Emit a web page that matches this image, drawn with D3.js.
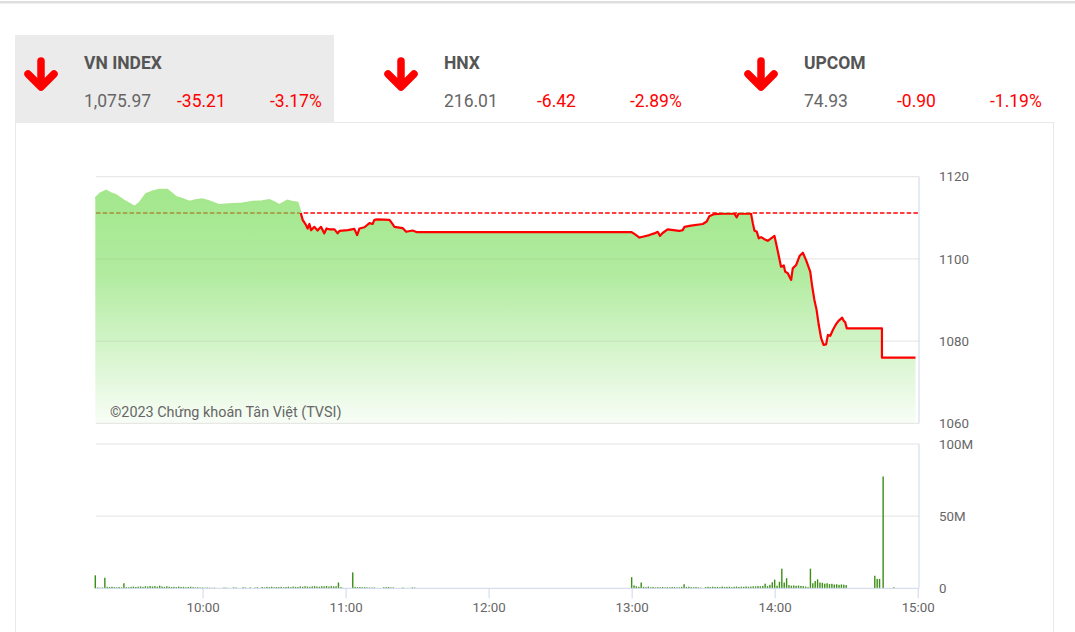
<!DOCTYPE html>
<html><head><meta charset="utf-8">
<script src="https://cdn.jsdelivr.net/npm/d3@7"></script>
<style>
html,body{margin:0;padding:0;background:#fff;}
svg{display:block;font-family:Roboto,"Noto Sans",sans-serif;}
</style></head><body>
<svg id="c" width="1075" height="632"></svg>
<script>
// ---------- header data ----------
const indexNames = ["VN INDEX", "HNX", "UPCOM"];
const indexValues = ["1,075.97", "216.01", "74.93"];
const indexChanges = ["-35.21", "-6.42", "-0.90"];
const indexPercents = ["-3.17%", "-2.89%", "-1.19%"];

// ---------- price series (VN-Index intraday) ----------
const referenceValue = 1111.18;
const priceTimes = [
 "09:15:00","09:17:00","09:19:30","09:21:30","09:23:40","09:27:00","09:31:25","09:33:30","09:36:15","09:39:00",
 "09:41:50","09:45:10","09:48:50","09:51:30","09:54:25","09:57:00","09:59:55","10:03:00","10:07:00","10:11:00",
 "10:16:40","10:21:00","10:25:00","10:28:00","10:30:00","10:32:10","10:35:35","10:37:30","10:39:50","10:41:20",
 "10:42:00","10:43:25","10:44:05","10:44:50","10:45:30","10:46:55","10:48:15","10:49:40","10:51:05","10:52:00",
 "10:53:10","10:55:20","10:56:40","10:57:25","11:00:55","11:03:40","11:04:50","11:05:50","11:07:55","11:10:00",
 "11:11:20","11:12:05","11:13:25","11:18:25","11:19:40","11:20:30","11:23:55","11:25:25","11:28:05","11:30:00",
 "13:00:00","13:01:10","13:03:15","13:04:40","13:07:25","13:09:30","13:10:55","13:11:55","13:13:00","13:15:05",
 "13:20:00","13:21:25","13:22:10","13:24:55","13:29:50","13:31:30","13:32:35","13:34:40","13:39:35","13:43:05",
 "13:44:05","13:44:55","13:50:05","13:50:50","13:51:30","13:52:30","13:53:20","13:54:20","13:55:40","13:57:05",
 "13:59:55","14:01:20","14:02:40","14:03:50","14:04:25","14:05:30","14:06:10","14:06:55","14:07:35","14:09:00",
 "14:10:25","14:11:50","14:13:10","14:14:55","14:15:40","14:16:40","14:17:35","14:18:30","14:19:30","14:20:30",
 "14:21:35","14:22:20","14:23:20","14:24:25","14:25:50","14:26:55","14:28:20","14:29:00","14:29:35","14:30:15",
 "14:45:00","14:45:00","14:59:05"
];
const priceValues = [
 1114.7,1115.9,1116.6,1116.0,1115.5,1114.2,1112.7,1113.6,1115.8,1116.4,
 1116.8,1116.8,1115.1,1114.6,1113.9,1114.3,1114.5,1114.0,1113.1,1113.3,
 1113.5,1113.9,1114.0,1114.3,1113.8,1113.1,1114.2,1113.9,1113.7,1110.9,
 1109.5,1108.2,1107.4,1108.5,1107.0,1107.8,1106.9,1107.8,1106.2,1107.4,
 1107.2,1107.2,1106.2,1106.8,1107.0,1107.3,1105.8,1107.4,1107.7,1108.7,
 1108.5,1109.5,1109.6,1109.5,1108.5,1107.8,1107.5,1106.6,1106.9,1106.5,
 1106.5,1106.1,1105.2,1105.4,1105.8,1106.2,1106.6,1105.6,1106.3,1107.2,
 1106.8,1107.0,1107.8,1108.1,1108.5,1109.1,1110.4,1110.9,1111.1,1111.0,
 1110.1,1111.1,1111.0,1108.7,1106.9,1106.6,1105.0,1105.3,1104.8,1104.4,
 1105.6,1101.8,1098.1,1098.4,1096.9,1096.5,1095.7,1094.9,1097.7,1098.5,
 1100.7,1101.5,1099.7,1096.9,1093.6,1090.0,1087.6,1083.9,1080.7,1079.1,
 1079.2,1081.5,1081.3,1082.7,1084.2,1085.0,1085.7,1084.9,1084.6,1083.1,
 1083.1,1075.97,1075.97
];

// ---------- volume (millions of shares, per minute) ----------
const volMorningStart = "09:15";
const volMorning = [
 9,0.6,0.4,0.5,7.3,1.0,0.9,1.1,0.8,0.7, 0.9,0.6,3.5,0.8,0.7,1.0,1.2,0.9,1.1,1.3,
 1.0,1.4,1.2,1.6,1.3,1.5,1.1,1.8,1.2,1.0, 1.4,1.1,0.9,1.0,0.8,1.2,0.9,1.0,0.7,0.9,
 1.1,0.8,0.6,0.7,0.5,0.6,0.4,0.5,0.4,0.3, 0.4,0,0,0,0.5,0.4,0,0,0.6,0.5,
 0,0,0.7,0.5,0,0.6,0,0.5,0.7,0, 0.9,0.6,1.0,0.8,1.1,0.7,0.9,0.8,1.0,0.7,
 0.9,1.1,0.8,1.2,1.0,0.9,1.3,1.1,1.4,1.2, 1.0,1.3,1.5,1.2,1.1,1.4,1.3,1.6,1.2,1.5,
 1.3,1.4,4.0,0.8,0.3,0,0,0,11,1.0, 0.8,0.9,0.7,0.8,0.6,0.5,0.5,0.6,0,0,
 0,0.7,0.8,0.9,0.6,0.6,0,0,0,0.5, 0,0,0,0.6,0.5,0
];
const volAfternoonStart = "13:00";
const volAfternoon = [
 7.7,2.0,1.4,1.0,4.0,1.0,0.8,1.2,0.7,0.9, 0.6,0.8,0.7,0.9,0.6,0.8,0.7,0.9,0.8,0.6,
 0.7,1.0,2.8,0.9,1.1,0.8,0.7,0.9,0.6,0.5, 0,0.8,1.0,0.9,1.1,0.9,1.0,0.8,1.2,0.9,
 1.0,1.1,0.8,1.0,1.2,0.9,1.1,1.0,1.3,1.1, 1.2,1.4,1.3,1.6,1.4,1.7,3.2,1.5,2.4,4.2,
 6.0,1.8,4.5,13.6,4.0,7.0,2.2,1.8,2.0,1.7, 1.9,1.6,1.5,1.2,0.8,13.6,3.5,5.0,6.2,4.0,
 3.8,3.2,3.5,2.9,3.1,2.6,2.8,2.4,2.7,2.5, 2.2
];
const volExtraTimes = ["14:42:00","14:43:00","14:44:00","14:45:30","14:50:00"];
const volExtraValues = [8.7, 6.5, 6.5, 77.5, 0.7];

// ---------- axis ticks ----------
const priceTicks = [1060, 1080, 1100, 1120];
const volTicks = [0, 50, 100];
const timeTicks = ["10:00","11:00","12:00","13:00","14:00","15:00"];
const copyright = "©2023 Chứng khoán Tân Việt (TVSI)";

// ================= drawing =================
const parse = d3.timeParse("%H:%M:%S");
const p = s => parse(s.length === 5 ? s + ":00" : s);

const svg = d3.select("#c");
const PL = 96, PR = 919;

// top page line
svg.append("rect").attr("x",0).attr("y",1).attr("width",1075).attr("height",2.5).attr("fill","#dedede");
// card
svg.append("rect").attr("x",15.5).attr("y",122.5).attr("width",1038).attr("height",530)
  .attr("fill","#fff").attr("stroke","#e8e8e8");
// header
const panelX = [15, 375, 735];
svg.append("rect").attr("x",15).attr("y",35).attr("width",319).attr("height",88).attr("fill","#ebebeb");
const hdr = svg.append("g").selectAll("g").data(indexNames).join("g")
  .attr("transform",(d,i)=>`translate(${panelX[i]},0)`);
hdr.append("path").attr("d","M26,61 L26,85 M13,74 L26,87 L39,74")
  .attr("fill","none").attr("stroke","#ff0000").attr("stroke-width",7.5)
  .attr("stroke-linecap","round").attr("stroke-linejoin","round");
hdr.append("text").attr("x",69).attr("y",69).text(d=>d)
  .attr("font-size",17.5).attr("font-weight","bold").attr("fill","#555");
hdr.append("text").attr("x",69).attr("y",107).text((d,i)=>indexValues[i])
  .attr("font-size",17.5).attr("fill","#666");
hdr.append("text").attr("x",162).attr("y",107).text((d,i)=>indexChanges[i])
  .attr("font-size",17.5).attr("fill","#ff0000");
hdr.append("text").attr("x",255).attr("y",107).text((d,i)=>indexPercents[i])
  .attr("font-size",17.5).attr("fill","#ff0000");

// scales
const x = d3.scaleTime().domain([p("09:15"), p("15:00")]).range([95.3, 917.7]);
const y = d3.scaleLinear().domain([1060, 1120]).range([423.3, 176.7]);
const yv = d3.scaleLinear().domain([0, 100]).range([588.3, 444]);

// ---- price panel ----
const pg = svg.append("g");
pg.selectAll("line.g").data(priceTicks).join("line")
  .attr("x1",PL).attr("x2",PR).attr("y1",d=>y(d)).attr("y2",d=>y(d))
  .attr("stroke","#e3e3e3").attr("stroke-width",1);
pg.append("line").attr("x1",PR).attr("x2",PR).attr("y1",y(1120)).attr("y2",y(1060))
  .attr("stroke","#ccd6eb");
pg.append("line").attr("x1",PL).attr("x2",PR).attr("y1",y(referenceValue)).attr("y2",y(referenceValue))
  .attr("stroke","#ff0000").attr("stroke-width",1.4).attr("stroke-dasharray","4.5,2.2");

const data = priceTimes.map((t,i)=>({t:p(t), v:priceValues[i]}));
const defs = svg.append("defs");
const grad = defs.append("linearGradient").attr("id","ag").attr("gradientUnits","userSpaceOnUse")
  .attr("x1",0).attr("x2",0).attr("y1",y(1120)).attr("y2",y(1060));
[[0,0.7],[0.4,0.56],[1,0.05]].forEach(([o,a])=>grad.append("stop")
  .attr("offset",o).attr("stop-color","rgb(118,220,86)").attr("stop-opacity",a));
defs.append("clipPath").attr("id","above").append("rect")
  .attr("x",0).attr("y",0).attr("width",1075).attr("height",y(referenceValue));
defs.append("clipPath").attr("id","below").append("rect")
  .attr("x",0).attr("y",y(referenceValue)).attr("width",1075).attr("height",632);

const area = d3.area().x(d=>x(d.t)).y0(y(1060)).y1(d=>y(d.v));
const line = d3.line().x(d=>x(d.t)).y(d=>y(d.v));
pg.append("path").datum(data).attr("d",area).attr("fill","url(#ag)");
pg.append("path").datum(data).attr("d",line).attr("fill","none")
  .attr("stroke","#a6e78d").attr("stroke-width",2).attr("clip-path","url(#above)");
pg.append("path").datum(data).attr("d",line).attr("fill","none")
  .attr("stroke","#ff0000").attr("stroke-width",2.2).attr("stroke-linejoin","round")
  .attr("clip-path","url(#below)");

const ya = pg.append("g").attr("transform",`translate(${PR},0)`)
  .call(d3.axisRight(y).tickValues(priceTicks).tickSize(0).tickPadding(20).tickFormat(d3.format("d")));
ya.select(".domain").remove();
ya.selectAll("text").attr("font-size",13.3).attr("fill","#666").attr("font-family","Roboto");

pg.append("text").attr("x",110).attr("y",417).text(copyright)
  .attr("font-size",14.4).attr("fill","#666");

// ---- volume panel ----
const vg = svg.append("g");
vg.selectAll("line.g").data(volTicks.filter(d=>d>0)).join("line")
  .attr("x1",PL).attr("x2",PR).attr("y1",d=>yv(d)).attr("y2",d=>yv(d))
  .attr("stroke","#e3e3e3");
vg.append("line").attr("x1",PR).attr("x2",PR).attr("y1",yv(100)).attr("y2",yv(0)).attr("stroke","#ccd6eb");

const vols = [];
volMorning.forEach((v,i)=>vols.push({t:d3.timeMinute.offset(p(volMorningStart),i), v}));
volAfternoon.forEach((v,i)=>vols.push({t:d3.timeMinute.offset(p(volAfternoonStart),i), v}));
volExtraTimes.forEach((t,i)=>vols.push({t:p(t), v:volExtraValues[i]}));
vg.selectAll("rect.v").data(vols.filter(d=>d.v>0)).join("rect")
  .attr("x",d=>x(d.t)-0.7).attr("width",1.4)
  .attr("y",d=>yv(d.v)).attr("height",d=>yv(0)-yv(d.v))
  .attr("fill","#3b8e15");

const xa = vg.append("g").attr("transform",`translate(0,${yv(0)})`)
  .call(d3.axisBottom(x).tickValues(timeTicks.map(p)).tickFormat(d3.timeFormat("%H:%M")).tickSize(10).tickPadding(4));
xa.select(".domain").remove();
xa.selectAll("line").attr("stroke","#ccd6eb");
xa.selectAll("text").attr("font-size",13.3).attr("fill","#666").attr("font-family","Roboto");
vg.append("line").attr("x1",PL).attr("x2",PR).attr("y1",yv(0)).attr("y2",yv(0)).attr("stroke","#ccd6eb");

const va = vg.append("g").attr("transform",`translate(${PR},0)`)
  .call(d3.axisRight(yv).tickValues(volTicks).tickSize(0).tickPadding(20).tickFormat(d=>d===0?"0":d+"M"));
va.select(".domain").remove();
va.selectAll("text").attr("font-size",13.3).attr("fill","#666").attr("font-family","Roboto");
</script>
</body></html>
